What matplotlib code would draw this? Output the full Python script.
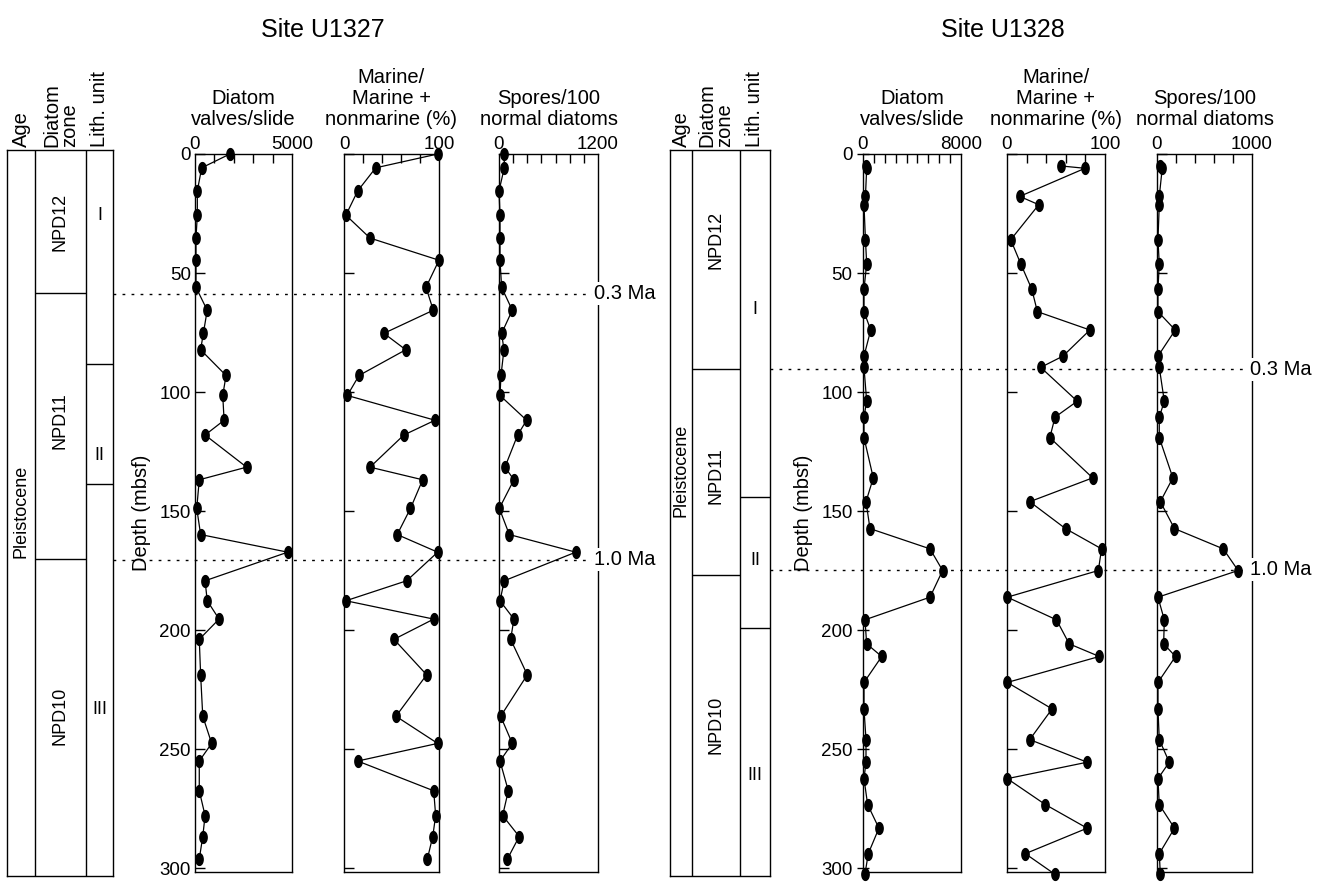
import numpy as np
import matplotlib
matplotlib.use("Agg")
import matplotlib.pyplot as plt
from matplotlib.path import Path
from matplotlib.lines import Line2D
from matplotlib.transforms import blended_transform_factory

plt.rcParams['font.family'] = ['Liberation Sans', 'DejaVu Sans']

# ---- Site U1327 ----
depth_1327 = [0, 5.8, 15.5, 25.7, 35.3, 44.6, 56, 65.6, 75.3, 82.2, 93, 101.4, 111.8, 118,
              131.5, 136.8, 148.8, 159.8, 167.2, 179.2, 187.6, 195.3, 203.8, 218.7, 236.1,
              247.5, 254.9, 267.4, 277.8, 286.6, 296.1]
diatoms_1327 = [1800, 345, 120, 120, 50, 50, 50, 630, 430, 290, 1600, 1430, 1500, 520, 2660,
                220, 90, 290, 4780, 520, 630, 1240, 220, 290, 400, 860, 220, 220, 520, 400, 220]
marine_1327 = [98.6, 33.4, 14.4, 2, 27.4, 100, 86.3, 94, 42, 65, 15.8, 3.5, 95.8, 63, 27.4,
               82.8, 70, 56, 98.6, 66, 2, 94.4, 52.6, 87, 54.7, 98.6, 14.4, 94.4, 96.5, 93.4, 87.7]
spores_1327 = [64, 64, 0, 12, 12, 12, 32, 161, 32, 60, 24, 12, 335, 226, 72, 181, 4, 125, 930,
               64, 12, 181, 141, 343, 20, 161, 12, 113, 44, 245, 101]

# ---- Site U1328 ----
depth_1328 = [5, 6, 17.8, 21.3, 36, 46.1, 56.8, 66.2, 73.9, 84.9, 89.6, 103.8, 110.5, 119.1,
              136, 146, 157.3, 165.8, 174.9, 186.1, 195.6, 205.7, 211, 221.9, 233, 245.9,
              255.4, 262.3, 273.2, 283.1, 293.8, 302.4]
diatoms_1328 = [245, 300, 200, 80, 200, 300, 80, 80, 630, 80, 80, 300, 80, 80, 840, 245, 570,
                5470, 6500, 5470, 160, 300, 1530, 80, 80, 245, 245, 80, 380, 1300, 430, 160]
marine_1328 = [54.6, 79.6, 13, 32.4, 3.8, 14, 25.3, 31, 84.6, 57, 34.4, 71.7, 49, 43.7, 87.4,
               23.2, 59.7, 96.5, 93.2, 0.3, 50.5, 63.5, 94.2, 0.3, 46, 23.2, 81.8, 0.3, 39.2,
               81.8, 18.7, 48.7]
spores_1328 = [30, 55, 24, 24, 10, 24, 10, 10, 192, 10, 24, 77, 24, 24, 167, 35, 184, 697, 854,
               10, 77, 70, 195, 10, 10, 24, 129, 10, 24, 184, 24, 35]

# age datums (depth, label) and stratigraphic boundaries
datums_1327 = [(58.6, '0.3 Ma'), (170.3, '1.0 Ma')]
datums_1328 = [(90.4, '0.3 Ma'), (174.5, '1.0 Ma')]
zones_1327 = [(28.6, 'NPD12'), (112, 'NPD11'), (236, 'NPD10')]
zones_1328 = [(36, 'NPD12'), (135, 'NPD11'), (240, 'NPD10')]
zone_breaks_1327 = [58.6, 170.3]
zone_breaks_1328 = [90.4, 177]
units_1327 = [(26, 'I'), (126.5, 'II'), (233.6, 'III')]
units_1328 = [(65.5, 'I'), (171, 'II'), (261, 'III')]
unit_breaks_1327 = [88.3, 138.5]
unit_breaks_1328 = [144, 199]

W, H = 1327, 882
fig = plt.figure(figsize=(W / 100, H / 100), dpi=100)


def px_axes(x0, x1, y0, y1):
    return fig.add_axes([x0 / W, 1 - y1 / H, (x1 - x0) / W, (y1 - y0) / H])


t = np.linspace(0, 2 * np.pi, 41)
dot = Path(np.column_stack([0.62 * np.cos(t), np.sin(t)]), closed=True)


def profile(box, depth, vals, xmax, nint, title, labels=False, ydir='in'):
    ax = px_axes(*box)
    ax.plot(vals, depth, color='black', lw=0.9, marker=dot, ms=8.5, clip_on=False, zorder=3)
    ax.set_xlim(0, xmax)
    ax.set_ylim(301.5, 0)
    ax.xaxis.tick_top()
    ax.set_xticks([0, xmax])
    ax.set_xticklabels(['0', str(xmax)])
    ax.set_xticks(np.linspace(0, xmax, nint + 1)[1:-1], minor=True)
    ax.tick_params(axis='x', which='major', length=0, pad=0.5, labelsize=13.5)
    ax.tick_params(axis='x', which='minor', direction='in', length=6.5, width=1,
                   top=True, bottom=False)
    ax.set_yticks(range(0, 301, 50))
    ax.tick_params(axis='y', direction=ydir, length=7 if ydir == 'in' else 9, width=1,
                   labelsize=13.5, labelleft=labels, pad=3)
    for s in ax.spines.values():
        s.set_linewidth(1.0)
    cx = (box[0] + box[1]) / 2
    fig.text(cx / W, 1 - 125 / H, title, ha='center', va='baseline', fontsize=14.5,
             linespacing=1.12)
    return ax


def strat(box, cols, zones, zbreaks, units, ubreaks, age_y):
    x0, x1, y0, y1 = box
    ax = px_axes(x0, x1, y0, y1)
    ax.set_xlim(x0, x1)
    ax.set_ylim((y1 - 154) / 2.38, (y0 - 154) / 2.38)
    ax.set_xticks([])
    ax.set_yticks([])
    for s in ax.spines.values():
        s.set_linewidth(1.0)
    a, b = cols
    ax.axvline(a, color='black', lw=1.0)
    ax.axvline(b, color='black', lw=1.0)
    ax.hlines(zbreaks, a, b, color='black', lw=1.0)
    ax.hlines(ubreaks, b, x1, color='black', lw=1.0)
    ax.text((x0 + a) / 2, age_y, 'Pleistocene', rotation=90, ha='center', va='center',
            fontsize=13)
    for d, name in zones:
        ax.text((a + b) / 2, d, name, rotation=90, ha='center', va='center', fontsize=13)
    for d, name in units:
        ax.text((b + x1) / 2, d, name, ha='center', va='center', fontsize=13)
    # rotated column headers
    fig.text((x0 + a) / 2 / W, 1 - 147 / H, 'Age', rotation=90, ha='center', va='bottom',
             fontsize=14.5)
    fig.text((a + b) / 2 / W, 1 - 147 / H, 'Diatom\nzone', rotation=90, ha='center',
             va='bottom', fontsize=14.5, multialignment='left', linespacing=0.92)
    fig.text((b + x1) / 2 / W, 1 - 147 / H, 'Lith. unit', rotation=90, ha='center',
             va='bottom', fontsize=14.5)
    return ax


def datum_lines(ax, datums, xa, xb):
    tr = blended_transform_factory(fig.transFigure, ax.transData)
    for d, name in datums:
        fig.add_artist(Line2D([xa / W, xb / W], [d, d], transform=tr, color='black',
                              lw=1.0, linestyle=(0, (2, 4.5))))
        fig.text(xb / W, d, name, transform=tr, ha='left', va='center', fontsize=14.5,
                 bbox=dict(facecolor='white', edgecolor='none', pad=1.5))


# Site U1327
strat((7, 113, 150, 876), (35, 86), zones_1327, zone_breaks_1327, units_1327,
      unit_breaks_1327, 150)
a1 = profile((195, 292, 154, 872), depth_1327, diatoms_1327, 5000, 5,
             'Diatom\nvalves/slide', labels=True)
a1.set_ylabel('Depth (mbsf)', fontsize=14.5, labelpad=6)
profile((344, 439, 154, 872), depth_1327, marine_1327, 100, 5,
        'Marine/\nMarine +\nnonmarine (%)')
profile((499, 598, 154, 872), depth_1327, spores_1327, 1200, 7,
        'Spores/100\nnormal diatoms')
datum_lines(a1, datums_1327, 113, 594)
fig.text(323 / W, 1 - 30 / H, 'Site U1327', ha='center', va='center', fontsize=18)

# Site U1328
strat((670, 770, 150, 876), (692, 740), zones_1328, zone_breaks_1328, units_1328,
      unit_breaks_1328, 133)
b1 = profile((863, 961, 154, 872), depth_1328, diatoms_1328, 8000, 9,
             'Diatom\nvalves/slide', labels=True, ydir='inout')
b1.set_ylabel('Depth (mbsf)', fontsize=14.5, labelpad=6)
profile((1007, 1105, 154, 872), depth_1328, marine_1328, 100, 5,
        'Marine/\nMarine +\nnonmarine (%)')
profile((1157, 1252, 154, 872), depth_1328, spores_1328, 1000, 5,
        'Spores/100\nnormal diatoms')
datum_lines(b1, datums_1328, 770, 1250)
fig.text(1003 / W, 1 - 30 / H, 'Site U1328', ha='center', va='center', fontsize=18)

fig.savefig('out.png', dpi=100)
